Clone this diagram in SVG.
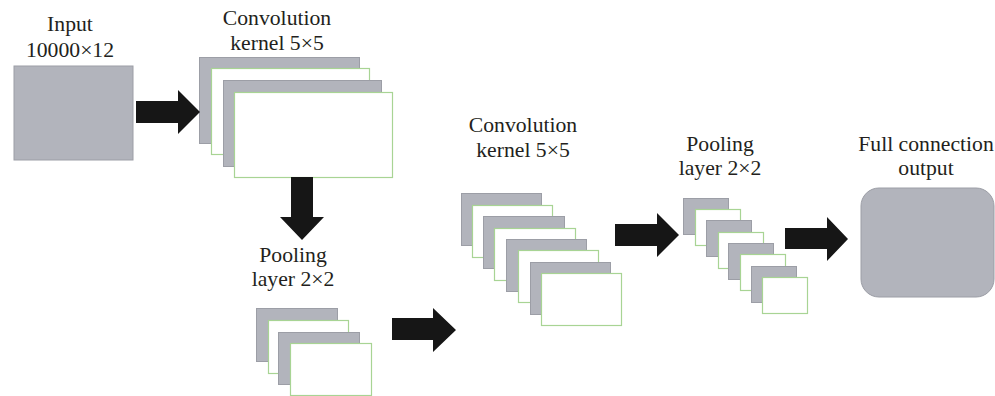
<svg xmlns="http://www.w3.org/2000/svg" width="995" height="396" viewBox="0 0 995 396">
<style>
.g{fill:#b2b4bc;stroke:#9c9ea6;stroke-width:1}
.w{fill:#ffffff;stroke:#a8d494;stroke-width:1.2}
.a{fill:#161616}
text{font-family:"Liberation Serif","DejaVu Serif",serif;font-size:21.7px;fill:#231f20;text-anchor:middle}
</style>
<rect width="995" height="396" fill="#ffffff"/>
<g id="input">
<text x="70" y="31">Input</text>
<text x="70" y="57">10000×12</text>
<rect class="g" x="14" y="66" width="119" height="94"/>
</g>
<g id="conv1">
<text x="277" y="25">Convolution</text>
<text x="277" y="50">kernel 5×5</text>
<rect class="g" x="199.5" y="57.5" width="160" height="86"/>
<rect class="w" x="211.5" y="68.5" width="158" height="86"/>
<rect class="g" x="223.5" y="80.5" width="158" height="86"/>
<rect class="w" x="234.5" y="92.5" width="158" height="85"/>
</g>
<g id="pool1">
<text x="293" y="262">Pooling</text>
<text x="293" y="286">layer 2×2</text>
<rect class="g" x="256.5" y="308.5" width="81" height="53"/>
<rect class="w" x="268.5" y="320.5" width="80" height="53"/>
<rect class="g" x="278.5" y="332.5" width="81" height="52"/>
<rect class="w" x="290.5" y="343.5" width="81" height="52"/>
</g>
<g id="conv2">
<text x="523" y="132">Convolution</text>
<text x="523" y="157">kernel 5×5</text>
<rect class="g" x="461.5" y="193.5" width="80" height="52"/>
<rect class="w" x="472.5" y="205.5" width="80" height="52"/>
<rect class="g" x="483.5" y="216.5" width="81" height="52"/>
<rect class="w" x="494.5" y="228.5" width="81" height="52"/>
<rect class="g" x="506.5" y="239.5" width="80" height="52"/>
<rect class="w" x="518.5" y="250.5" width="80" height="52"/>
<rect class="g" x="530.5" y="262.5" width="80" height="52"/>
<rect class="w" x="541.5" y="273.5" width="80" height="52"/>
</g>
<g id="pool2">
<text x="720" y="151">Pooling</text>
<text x="720" y="175">layer 2×2</text>
<rect class="g" x="683.5" y="198.5" width="45" height="36"/>
<rect class="w" x="695.5" y="209.5" width="45" height="36"/>
<rect class="g" x="706.5" y="220.5" width="45" height="36"/>
<rect class="w" x="718.5" y="232.5" width="45" height="36"/>
<rect class="g" x="728.5" y="243.5" width="45" height="36"/>
<rect class="w" x="740.5" y="254.5" width="45" height="36"/>
<rect class="g" x="751.5" y="266.5" width="45" height="36"/>
<rect class="w" x="762.5" y="277.5" width="45" height="36"/>
</g>
<g id="output">
<text x="926" y="151">Full connection</text>
<text x="926" y="175">output</text>
<rect class="g" x="861" y="188" width="133" height="109" rx="18" ry="18"/>
</g>
<g id="connectors">
<polygon class="a" points="136,101 178,101 178,90 200,112 178,134 178,123 136,123"/>
<polygon class="a" points="291,177 313,177 313,217 324,217 302,240 280,217 291,217"/>
<polygon class="a" points="392,318 433,318 433,308 456,330 433,352 433,340 392,340"/>
<polygon class="a" points="615,224 657,224 657,213 679,235 657,257 657,246 615,246"/>
<polygon class="a" points="785,228 827,228 827,217 848,239 827,261 827,249 785,249"/>
</g>
</svg>
